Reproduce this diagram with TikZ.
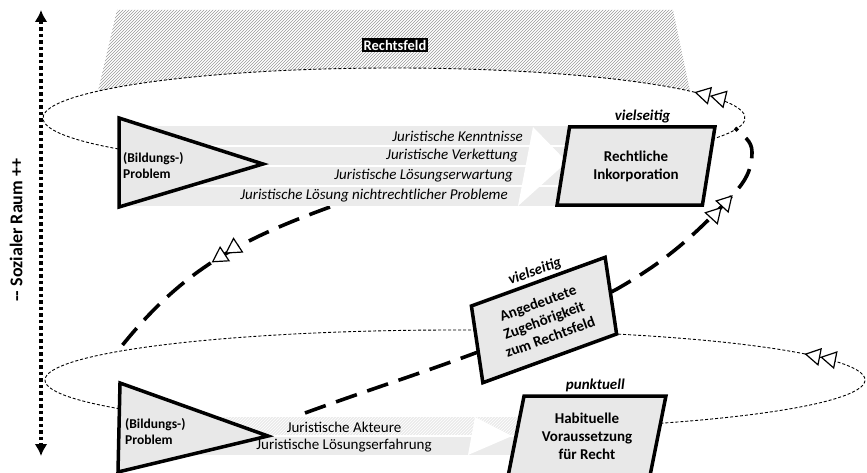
\documentclass[tikz,border=0pt]{standalone}
\usepackage{fontspec}
\setmainfont{Carlito}
\usepackage{tikz}
\usetikzlibrary{arrows.meta,shapes.geometric,patterns,decorations.markings,positioning,calc}
\tikzstyle{ring}=[draw, line width=0.9pt, dash pattern=on 3pt off 2pt]
\tikzstyle{track}=[draw, line width=3.6pt, dash pattern=on 22pt off 11pt]
\tikzstyle{band}=[fill=black!8]
\tikzstyle{problem}=[draw, line width=3.5pt, fill=black!9]
\tikzstyle{body}=[trapezium, trapezium left angle=77, trapezium right angle=103, trapezium stretches=true, draw, line width=3.5pt, fill=black!9, minimum width=158pt, minimum height=78pt, align=center, font=\bfseries\fontsize{15}{18}\selectfont]
\tikzstyle{tag}=[font=\bfseries\itshape\fontsize{15}{17}\selectfont, inner sep=2pt]
\tikzstyle{item}=[font=\itshape\fontsize{15}{17}\selectfont, inner sep=0pt]
\tikzstyle{plain}=[font=\fontsize{15}{17}\selectfont, inner sep=0pt]
\tikzstyle{prob}=[font=\bfseries\fontsize{13.5}{16}\selectfont, align=left, anchor=west, inner sep=0pt]
\tikzset{dtri/.tip={Triangle[fill=white, length=16pt, width=18pt, line width=1.2pt] Triangle[fill=white, length=16pt, width=18pt, line width=1.2pt]}}

\begin{document}
\begin{tikzpicture}[x=1pt, y=1pt]
\clip (0,0) rectangle (867,472);
\coordinate (uc) at (394,354);
\coordinate (lc) at (455,92);

% the field on top
\fill[pattern=north east lines, pattern color=black!40] (117,462) -- (673,462)
  -- ($(uc)+(32.5:351pt and 50pt)$) arc[start angle=32.5, end angle=147.5, x radius=351pt, y radius=50pt] -- cycle;
\node[fill=black, text=white, font=\bfseries\fontsize{14.5}{16}\selectfont, inner sep=1.5pt] (field) at (395,427) {Rechtsfeld};

% the two rings
\draw[ring, postaction={decorate}, decoration={markings, mark=at position 0.5pt with {\arrow{dtri}}}]
  ($(uc)+(31:351pt and 50pt)$) arc[start angle=31, delta angle=360, x radius=351pt, y radius=50pt];
\draw[ring, postaction={decorate}, decoration={markings, mark=at position 0.5pt with {\arrow{dtri}}}]
  ($(lc)+(31.4:410pt and 50pt)$) arc[start angle=31.4, delta angle=360, x radius=410pt, y radius=50pt];

% the spiral
\coordinate (s1) at (330,265);
\coordinate (s2) at (117,120);
\draw[track, postaction={decorate}, decoration={markings, mark=at position 0.5 with {\arrow{dtri}}}]
  (s1) to[out=200, in=52] (s2);
\coordinate (t1) at (305,59);
\coordinate (t2) at (617,183);
\coordinate (t3) at (728,272);
\coordinate (t4) at (752,320);
\coordinate (t5) at (735,344);
\draw[track, postaction={decorate}, decoration={markings, mark=at position 0.86 with {\arrow{dtri}}}]
  (t1) to[out=20, in=208] (t2) to[out=30, in=226] (t3) to[out=46, in=270] (t4) to[out=90, in=315] (t5);

% upper bands
\fill[band] (118,266) rectangle (570,346);
\foreach \y in {326,306,286}
  \draw[white, line width=1.5pt] (118,\y) -- (570,\y);
\fill[white] (533,345) -- (567,310) -- (518,266) -- cycle;
\foreach \x/\y/\t/\n in {523/336/{Juristische Kenntnisse}/k1, 518/316/{Juristische Verkettung}/k2,
    513/296/{Juristische Lösungserwartung}/k3, 508/276/{Juristische Lösung nichtrechtlicher Probleme}/k4}
  \node[item, anchor=east] (\n) at (\x,\y) {\t};

% lower bands
\fill[band] (118,17) rectangle (520,55);
\fill[pattern=north east lines, pattern color=white] (118,36) rectangle (520,55);
\draw[white, line width=1.5pt] (118,36) -- (520,36);
\fill[white] (475,55) -- (512,36) -- (468,17) -- cycle;
\node[plain] (j1) at (344,45) {Juristische Akteure};
\node[plain] (j2) at (344,26) {Juristische Lösungserfahrung};

% problems
\draw[problem] (119,354) -- (263,308) -- (119,265) -- cycle;
\node[prob] (p1) at (123,306) {(Bildungs-)\\Problem};
\draw[problem] (120,89) -- (268,36) -- (118,0) -- cycle;
\node[prob] (p2) at (125,40) {(Bildungs-)\\Problem};

% outcomes
\node[body] (rk) at (636,306) {Rechtliche\\Inkorporation};
\node[tag, anchor=south] (rkt) at (rk.top side) {vielseitig};
\node[body, rotate=20, minimum width=158pt, minimum height=76pt] (az) at (544,152) {Angedeutete\\Zugehörigkeit\\zum Rechtsfeld};
\node[tag, rotate=20, anchor=south] (azt) at (az.top side) {vielseitig};
\node[body, minimum height=80pt] (hv) at (587,36) {Habituelle\\Voraussetzung\\für Recht};
\node[tag, anchor=south] (hvt) at (hv.top side) {punktuell};

% social space axis
\coordinate (top) at (41,462);
\coordinate (bot) at (41,16);
\draw[line width=3.5pt, dash pattern=on 3.5pt off 3pt, {Latex[length=12pt,width=13pt]}-{Latex[length=12pt,width=13pt]}] (top) -- (bot);
\node[rotate=90, font=\bfseries\fontsize{18}{20}\selectfont] (sr) at (16,242) {-{}- Sozialer Raum ++};
\end{tikzpicture}
\end{document}
